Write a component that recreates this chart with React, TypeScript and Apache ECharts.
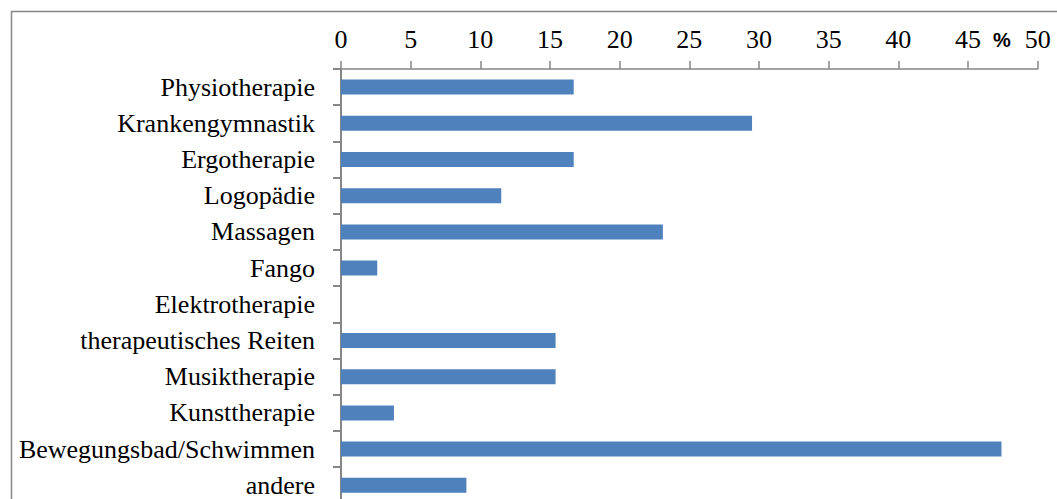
import React, { useEffect, useRef } from "react";
import * as echarts from "echarts";

const categories = [
  "Physiotherapie",
  "Krankengymnastik",
  "Ergotherapie",
  "Logopädie",
  "Massagen",
  "Fango",
  "Elektrotherapie",
  "therapeutisches Reiten",
  "Musiktherapie",
  "Kunsttherapie",
  "Bewegungsbad/Schwimmen",
  "andere",
];

const percentages = [16.7, 29.5, 16.7, 11.5, 23.1, 2.6, 0, 15.4, 15.4, 3.8, 47.4, 9.0];

const axisMin = 0;
const axisMax = 50;
const axisStep = 5;

const W = 1057;
const H = 510;

export default function App() {
  const ref = useRef<HTMLDivElement>(null);

  useEffect(() => {
    if (!ref.current) return;
    const chart = echarts.init(ref.current, undefined, { renderer: "svg" });
    const serif = "Liberation Serif";
    chart.setOption({
      animation: false,
      backgroundColor: "#ffffff",
      grid: { left: 341, right: 19.3, top: 69, bottom: H - 503.4, containLabel: false },
      xAxis: {
        type: "value",
        position: "top",
        min: axisMin,
        max: axisMax,
        interval: axisStep,
        axisLine: { show: true, lineStyle: { color: "#868686", width: 1.5 } },
        axisTick: { show: true, length: 8, lineStyle: { color: "#868686", width: 1.5 } },
        axisLabel: { color: "#000", fontFamily: serif, fontSize: 26, margin: 17 },
        splitLine: { show: false },
      },
      yAxis: {
        type: "category",
        data: categories,
        inverse: true,
        axisLine: { show: true, lineStyle: { color: "#868686", width: 2 } },
        axisTick: { show: true, length: 8, alignWithLabel: false, lineStyle: { color: "#868686", width: 2 } },
        axisLabel: { color: "#000", fontFamily: serif, fontSize: 26, margin: 26 },
      },
      series: [
        {
          type: "bar",
          data: percentages,
          barWidth: 15,
          itemStyle: { color: "#4F81BD" },
        },
      ],
      graphic: [
        {
          type: "rect",
          left: 9,
          top: 9,
          shape: { x: 0, y: 0, width: 1100, height: 600 },
          style: { fill: "none", stroke: "#868686", lineWidth: 1.5 },
          silent: true,
          z: -1,
        },
        {
          type: "text",
          x: 1002,
          y: 40,
          style: {
            text: "%",
            fill: "#000",
            fontFamily: "Liberation Sans",
            fontWeight: "bold",
            fontSize: 20,
            textAlign: "center",
            textVerticalAlign: "middle",
          },
        },
      ],
    });
    return () => chart.dispose();
  }, []);

  return (
    <div
      ref={ref}
      style={{ position: "fixed", left: 0, top: 0, width: W, height: H }}
    />
  );
}
